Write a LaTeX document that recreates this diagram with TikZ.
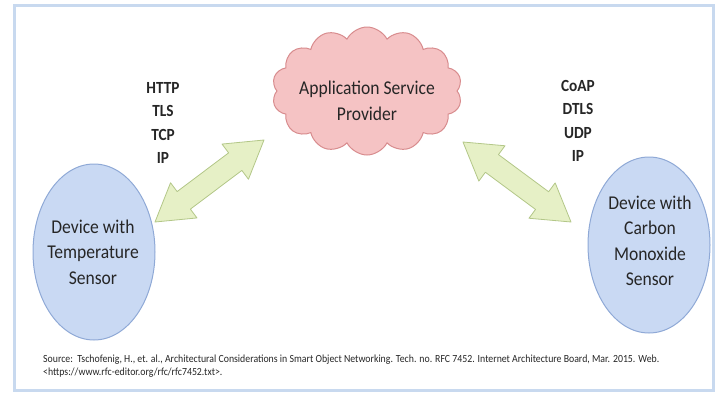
\documentclass[tikz,border=0pt]{standalone}
\usepackage{fontspec}
\setmainfont{Carlito}[FakeStretch=0.9]
\usetikzlibrary{shapes.symbols,shapes.geometric,calc}
\definecolor{framec}{HTML}{C8D9EF}
\definecolor{cloudfill}{HTML}{F5C3C4}
\definecolor{clouddraw}{HTML}{D88C8E}
\definecolor{ellfill}{HTML}{C9D9F3}
\definecolor{elldraw}{HTML}{8FA9D6}
\definecolor{arrfill}{HTML}{E6F0C6}
\definecolor{arrdraw}{HTML}{B3C788}
\definecolor{txt}{HTML}{262626}
\newcommand\fatdblarrow[2]{%
  \draw[arrowbody] (#1)
    -- ($(#1)!36pt!(#2)!22pt!90:(#2)$)
    -- ($(#1)!36pt!(#2)!11pt!90:(#2)$)
    -- ($(#2)!36pt!(#1)!11pt!-90:(#1)$)
    -- ($(#2)!36pt!(#1)!22pt!-90:(#1)$)
    -- (#2)
    -- ($(#2)!36pt!(#1)!22pt!90:(#1)$)
    -- ($(#2)!36pt!(#1)!11pt!90:(#1)$)
    -- ($(#1)!36pt!(#2)!11pt!-90:(#2)$)
    -- ($(#1)!36pt!(#2)!22pt!-90:(#2)$)
    -- cycle;}
\begin{document}
\begin{tikzpicture}[x=1pt,y=-1pt,
  bigtext/.style={text=txt,align=center,font=\fontsize{19.5}{25.5}\selectfont},
  prototext/.style={text=txt,align=center,font=\bfseries\fontsize{17}{23.5}\selectfont},
  devicebox/.style={ellipse,draw=elldraw,fill=ellfill,line width=1pt,minimum width=122pt,minimum height=176pt,inner sep=0pt},
  cloudbox/.style={cloud,cloud puffs=14,cloud puff arc=125,cloud ignores aspect,draw=clouddraw,fill=cloudfill,line width=1pt,minimum width=190pt,minimum height=128pt,inner sep=0pt},
  arrowbody/.style={draw=arrdraw,fill=arrfill,line width=0.8pt,line join=round}]
\useasboundingbox (0,0) rectangle (718,394);
\draw[framec,line width=3pt] (14,5) rectangle (713,390);
\node[cloudbox] (asp) at (367,91) {};
\node[bigtext] (asptext) at (367,101) {Application Service\\Provider};
\node[devicebox] (temp) at (94,252) {};
\node[bigtext] (temptext) at (93,252) {Device with\\Temperature\\Sensor};
\node[devicebox] (co) at (649,245) {};
\node[bigtext] (cotext) at (650,241) {Device with\\Carbon\\Monoxide\\Sensor};
\node[prototext] (proto1) at (163,123) {HTTP\\TLS\\TCP\\IP};
\node[prototext] (proto2) at (578,121) {CoAP\\DTLS\\UDP\\IP};
\coordinate (la) at (155,222);
\coordinate (lb) at (264,140);
\coordinate (ra) at (463,142);
\coordinate (rb) at (571,222);
\fatdblarrow{la}{lb}
\fatdblarrow{ra}{rb}
\node[text=txt,align=left,anchor=north west,inner sep=0pt,font=\fontsize{10.9}{12.5}\selectfont] (src) at (43,355)
  {Source:\ \ Tschofenig, H., et. al., Architectural Considerations in Smart Object Networking. Tech. no. RFC 7452. Internet Architecture Board, Mar. 2015. Web.\\
   <https://www.rfc-editor.org/rfc/rfc7452.txt>.};
\end{tikzpicture}
\end{document}
